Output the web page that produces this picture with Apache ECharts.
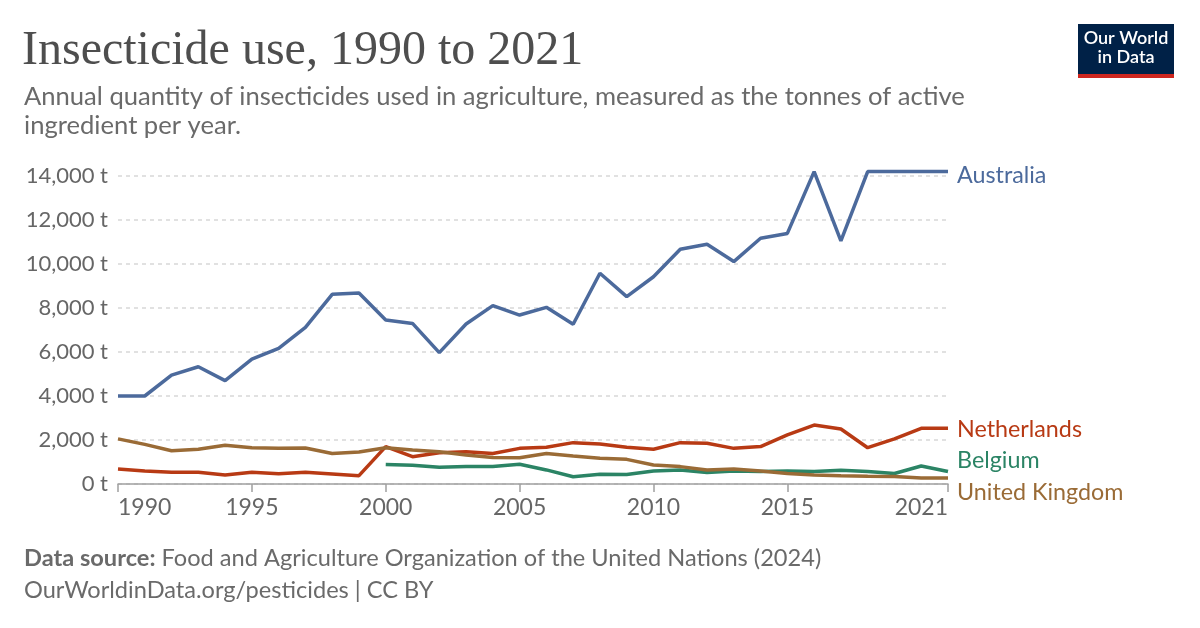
<!DOCTYPE html>
<html>
<head>
<meta charset="utf-8">
<script src="https://cdn.jsdelivr.net/npm/echarts@6/dist/echarts.min.js"></script>
<style>html,body{margin:0;padding:0;background:#fff}#c{width:1200px;height:628px}</style>
</head>
<body>
<div id="c"></div>
<script>
const years = [];
for (let y = 1990; y <= 2021; y++) years.push(y);
const xTickLabels = [1990, 1995, 2000, 2005, 2010, 2015, 2021];
const yTicks = [0, 2000, 4000, 6000, 8000, 10000, 12000, 14000];

const australia = [4000, 4000, 4950, 5330, 4700, 5680, 6170, 7120, 8620, 8680,
  7450, 7300, 5970, 7270, 8110, 7680, 8030, 7260, 9580, 8520,
  9420, 10670, 10900, 10110, 11170, 11390, 14200, 11050, 14200, 14200, 14200, 14200];
const netherlands = [680, 590, 530, 530, 410, 530, 470, 530, 460, 380,
  1700, 1240, 1420, 1470, 1390, 1620, 1670, 1880, 1820, 1670,
  1580, 1880, 1850, 1620, 1700, 2230, 2680, 2500, 1650, 2050, 2530, 2530];
const belgium = [null, null, null, null, null, null, null, null, null, null,
  890, 850, 760, 790, 800, 900, 640, 330, 440, 430,
  590, 640, 520, 590, 570, 590, 570, 620, 570, 480, 820, 570];
const uk = [2050, 1800, 1510, 1580, 1760, 1650, 1620, 1640, 1390, 1450,
  1650, 1550, 1470, 1320, 1200, 1190, 1390, 1270, 1170, 1120,
  860, 790, 640, 680, 590, 480, 410, 375, 350, 340, 270, 270];

const seriesDefs = [
  { name: 'Australia', data: australia, color: '#4c6a9c', offset: [0, 4] },
  { name: 'Netherlands', data: netherlands, color: '#b83a14', offset: [0, 1] },
  { name: 'Belgium', data: belgium, color: '#2b8465', offset: [0, -11] },
  { name: 'United Kingdom', data: uk, color: '#9a6b36', offset: [0, 14] }
];

const font = 'Lato, "Noto Sans", sans-serif';
const chart = echarts.init(document.getElementById('c'), null, { renderer: 'canvas' });

chart.setOption({
  animation: false,
  backgroundColor: '#ffffff',
  grid: { left: 118, right: 252, top: 176, bottom: 144, containLabel: false },
  xAxis: {
    type: 'value', min: 1990, max: 2021,
    axisLine: { show: true, lineStyle: { color: '#a0a0a0', width: 1.5 } },
    axisTick: { show: true, customValues: xTickLabels, length: 8, lineStyle: { color: '#a0a0a0', width: 1.5 } },
    axisLabel: { customValues: xTickLabels, color: '#666', fontSize: 23, fontFamily: font, margin: 12,
      alignMinLabel: 'left', alignMaxLabel: 'right',
      formatter: v => String(v) },
    splitLine: { show: false }
  },
  yAxis: {
    type: 'value', min: 0, max: 14000, interval: 2000,
    axisLine: { show: false }, axisTick: { show: false },
    axisLabel: { color: '#666', fontSize: 22, fontFamily: font, margin: 10,
      formatter: v => v.toLocaleString('en-US') + ' t' },
    splitLine: { show: true, lineStyle: { color: '#d8d8d8', width: 1.5, type: [4, 4] } }
  },
  series: seriesDefs.map(s => ({
    name: s.name,
    type: 'line',
    data: years.map((y, i) => [y, s.data[i]]),
    showSymbol: false,
    clip: false,
    connectNulls: false,
    lineStyle: { color: s.color, width: 3.5 },
    itemStyle: { color: s.color },
    endLabel: { show: true, formatter: s.name, color: s.color, fontSize: 23.3, fontFamily: font,
      distance: 9, offset: s.offset },
    z: 3
  })),
  graphic: [
    { type: 'text', left: 22, top: 27, style: { text: 'Insecticide use, 1990 to 2021', fill: '#4e4e4e',
      font: '48px "Liberation Serif", "DejaVu Serif", serif' } },
    { type: 'text', left: 24, top: 82, style: { text: 'Annual quantity of insecticides used in agriculture, measured as the tonnes of active\ningredient per year.',
      fill: '#6a6a6a', font: '25.6px ' + font, lineHeight: 29 } },
    { type: 'rect', shape: { x: 1078, y: 24, width: 96, height: 51 }, style: { fill: '#002147' } },
    { type: 'rect', shape: { x: 1078, y: 74, width: 96, height: 4 }, style: { fill: '#ce261e' } },
    { type: 'text', x: 1126, y: 29, style: { text: 'Our World\nin Data', fill: '#fff', align: 'center',
      font: '600 18px ' + font, lineHeight: 19 } },
    { type: 'text', left: 24, top: 546, style: {
      text: '{b|Data source:} Food and Agriculture Organization of the United Nations (2024)',
      fill: '#6a6a6a', font: '23.6px ' + font,
      rich: { b: { fontWeight: 'bold', fill: '#6a6a6a', fontSize: 23.6, fontFamily: font } } } },
    { type: 'text', left: 24, top: 578, style: { text: 'OurWorldinData.org/pesticides | CC BY',
      fill: '#6a6a6a', font: '23.6px ' + font } }
  ]
});
</script>
</body>
</html>
